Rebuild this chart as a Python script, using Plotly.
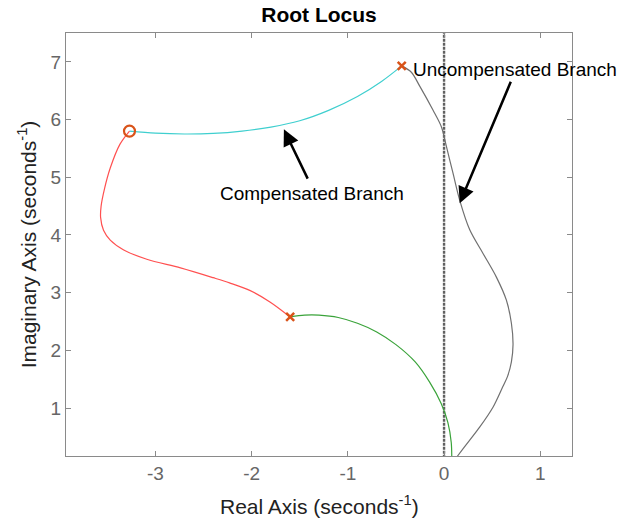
import plotly.graph_objects as go

# Root locus branches (real part, imaginary part)
comp_re = [-3.27, -3.00, -2.70, -2.40, -2.10, -1.80, -1.50, -1.20, -0.90, -0.65, -0.44]
comp_im = [5.80, 5.765, 5.75, 5.76, 5.80, 5.87, 5.98, 6.16, 6.40, 6.66, 6.93]

red_re = [-1.60, -1.81, -2.02, -2.23, -2.40, -2.74, -3.09, -3.33, -3.47, -3.54, -3.57, -3.565, -3.53, -3.47, -3.37, -3.27]
red_im = [2.58, 2.84, 3.04, 3.17, 3.26, 3.43, 3.58, 3.74, 3.91, 4.08, 4.30, 4.50, 4.80, 5.16, 5.57, 5.80]

green_re = [-1.60, -1.45, -1.30, -1.10, -0.90, -0.70, -0.50, -0.30, -0.15, -0.03, 0.04, 0.075, 0.08]
green_im = [2.58, 2.61, 2.61, 2.57, 2.47, 2.32, 2.10, 1.80, 1.45, 1.08, 0.75, 0.40, 0.0]

uncomp_re = [-0.44, -0.34, -0.25, -0.114, -0.027, 0.025, 0.093, 0.163, 0.267, 0.405, 0.544, 0.648, 0.70, 0.717,
             0.70, 0.66, 0.61, 0.51, 0.37, 0.255, 0.14, 0.08]
uncomp_im = [6.93, 6.82, 6.57, 6.16, 5.87, 5.53, 5.07, 4.60, 4.09, 3.68, 3.27, 2.87, 2.47, 2.10,
             1.80, 1.55, 1.37, 1.02, 0.67, 0.42, 0.17, 0.04]

# Open-loop poles and zero
pole_re = [-0.44, -1.60]
pole_im = [6.93, 2.58]
zero_re = [-3.27]
zero_im = [5.80]

x_ticks = [-3, -2, -1, 0, 1]
y_ticks = [1, 2, 3, 4, 5, 6, 7]
x_range = [-3.93, 1.33]
y_range = [0.17, 7.50]

FONT = "Liberation Sans, Arial, Helvetica, sans-serif"
MARK = "#d95319"
AX = "#8a8a8a"

W, H = 633, 523
ML, MR, MT, MB = 66, 61, 33, 67
PW, PH = W - ML - MR, H - MT - MB

fig = go.Figure()

# imaginary axis
fig.add_trace(go.Scatter(x=[0, 0], y=[y_range[0] - 1, y_range[1] + 1], mode="lines",
                         line=dict(color="#606060", width=2.4, dash="3px,1px"),
                         hoverinfo="skip", showlegend=False))

for xs, ys, col in [(comp_re, comp_im, "#3fcfcf"),
                    (red_re, red_im, "#ff5050"),
                    (green_re, green_im, "#3aa33a"),
                    (uncomp_re, uncomp_im, "#707070")]:
    fig.add_trace(go.Scatter(x=xs, y=ys, mode="lines",
                             line=dict(color=col, width=1.2, shape="spline", smoothing=0.9),
                             showlegend=False))

fig.add_trace(go.Scatter(x=pole_re, y=pole_im, mode="markers",
                         marker=dict(symbol="x-thin", size=8, line=dict(color=MARK, width=2.5)),
                         showlegend=False))
fig.add_trace(go.Scatter(x=zero_re, y=zero_im, mode="markers",
                         marker=dict(symbol="circle-open", size=11, color=MARK, line=dict(color=MARK, width=2.2)),
                         showlegend=False))

# arrows pointing at the branches
arrows = [((-1.665, 5.83), (-1.41, 4.95)), ((0.163, 4.55), (0.70, 6.68))]
for (tx, ty), (ax, ay) in arrows:
    fig.add_annotation(x=tx, y=ty, ax=ax, ay=ay, xref="x", yref="y", axref="x", ayref="y",
                       text="", showarrow=True, arrowhead=2, arrowsize=1.3, arrowwidth=2.5,
                       arrowcolor="black")

fig.add_annotation(x=-1.378, y=4.72, xref="x", yref="y", text="Compensated Branch",
                   showarrow=False, xanchor="center", yanchor="middle",
                   font=dict(family=FONT, size=19, color="black"))
fig.add_annotation(x=-0.34, y=6.87, xref="x", yref="y", text="Uncompensated Branch",
                   showarrow=False, xanchor="left", yanchor="middle",
                   font=dict(family=FONT, size=19, color="black"))

# x axis title, placed in pixel terms below the plot
fig.add_annotation(x=(319 - ML) / PW, y=(H - MB - 505) / PH, xref="paper", yref="paper",
                   text="Real Axis (seconds<sup>-1</sup>)", showarrow=False,
                   xanchor="center", yanchor="middle",
                   font=dict(family=FONT, size=21, color="#222222"))

fig.update_layout(
    width=W, height=H,
    margin=dict(l=ML, r=MR, t=MT, b=MB),
    paper_bgcolor="white", plot_bgcolor="white",
    font=dict(family=FONT),
    title=dict(text="<b>Root Locus</b>", x=319 / W, xanchor="center",
               y=1 - 15 / H, yanchor="middle", yref="container",
               font=dict(family=FONT, size=21, color="black")),
)

fig.update_xaxes(range=x_range, tickvals=x_ticks, ticktext=[str(v) for v in x_ticks],
                 ticks="inside", ticklen=5, tickcolor=AX, showline=True, linecolor=AX,
                 linewidth=1, mirror="ticks", showgrid=False, zeroline=False,
                 tickfont=dict(family=FONT, size=19, color="#666666"))
fig.update_yaxes(range=y_range, tickvals=y_ticks, ticks="inside", ticklen=5, tickcolor=AX,
                 showline=True, linecolor=AX, linewidth=1, mirror="ticks", showgrid=False,
                 zeroline=False, tickfont=dict(family=FONT, size=19, color="#666666"),
                 title=dict(text="Imaginary Axis (seconds<sup>-1</sup>)", standoff=8,
                            font=dict(family=FONT, size=21, color="#222222")))

fig.write_html("out.html")
